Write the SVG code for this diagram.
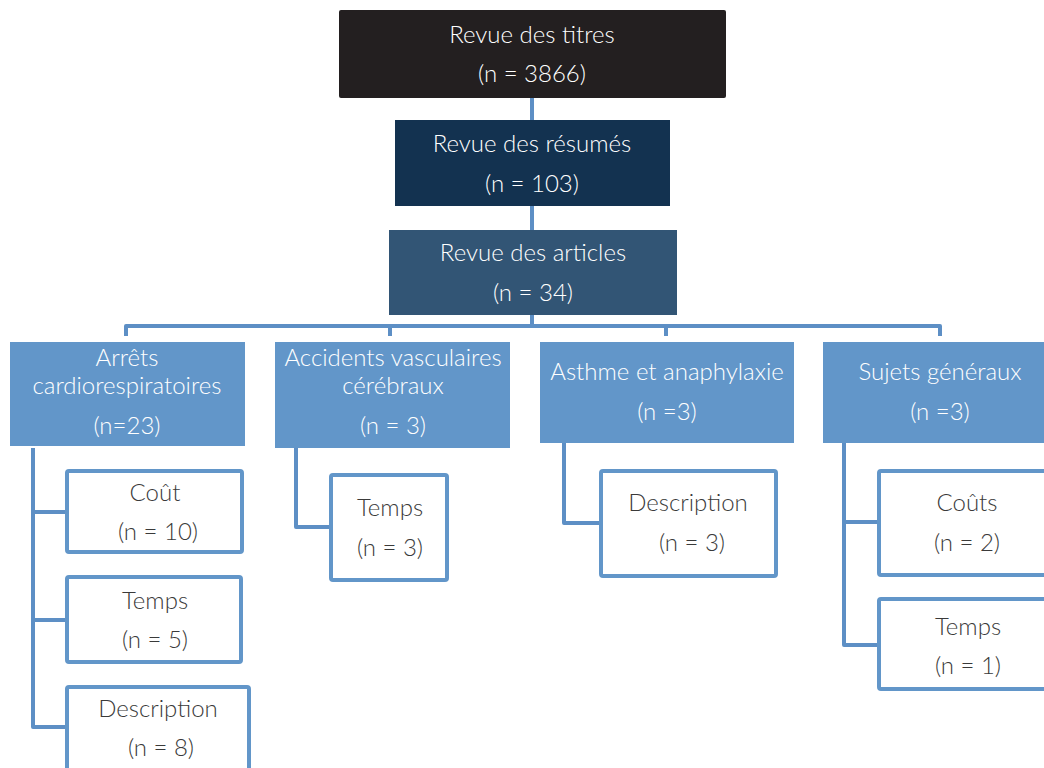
<svg xmlns="http://www.w3.org/2000/svg" width="1044" height="768" viewBox="0 0 1044 768">
<style>
text{font-family:Lato,"Open Sans","Liberation Sans",sans-serif;font-size:24px;font-weight:300;text-anchor:middle}
.w{fill:#ffffff}
.d{fill:#3a3a3a}
.lvl2{fill:#6296c9}
.leaf{fill:#ffffff;stroke:#6296c9;stroke-width:4}
.conn{fill:none;stroke:#5d8fc5;stroke-width:4;stroke-linejoin:round}
</style>
<rect width="1044" height="768" fill="#ffffff"/>
<g id="connectors">
<path class="conn" d="M532 98V120M532 206V230M532 315V326"/>
<path class="conn" d="M126 336V326H940V336M390 326V336M666 326V336"/>
<path class="conn" d="M33 448V727H67M33 512H67M33 620H67"/>
<path class="conn" d="M296 448V527H331"/>
<path class="conn" d="M564 443V523H601"/>
<path class="conn" d="M844 443V645H879M844 522H879"/>
</g>
<g id="n1"><rect x="339" y="10" width="387" height="88" rx="2" fill="#231f20"/><text class="w" x="532" y="43">Revue des titres</text><text class="w" x="532" y="82">(n = 3866)</text></g>
<g id="n2"><rect x="395" y="120" width="275" height="86" fill="#133250"/><text class="w" x="532" y="152">Revue des résumés</text><text class="w" x="532" y="192">(n = 103)</text></g>
<g id="n3"><rect x="389" y="230" width="288" height="85" fill="#325575"/><text class="w" x="533" y="261">Revue des articles</text><text class="w" x="533" y="301">(n = 34)</text></g>
<g id="nA"><rect class="lvl2" x="10" y="342" width="235" height="104"/><text class="w" x="127" y="366">Arrêts</text><text class="w" x="127" y="394">cardiorespiratoires</text><text class="w" x="127" y="434">(n=23)</text></g>
<g id="nB"><rect class="lvl2" x="275" y="342" width="235" height="106"/><text class="w" x="393" y="366">Accidents vasculaires</text><text class="w" x="393" y="394">cérébraux</text><text class="w" x="393" y="434">(n = 3)</text></g>
<g id="nC"><rect class="lvl2" x="540" y="342" width="254" height="101"/><text class="w" x="667" y="380">Asthme et anaphylaxie</text><text class="w" x="667" y="420">(n =3)</text></g>
<g id="nD"><rect class="lvl2" x="823" y="342" width="221" height="101"/><text class="w" x="940" y="380">Sujets généraux</text><text class="w" x="940" y="420">(n =3)</text></g>
<g id="a1"><rect class="leaf" x="67" y="471" width="175" height="81" rx="2"/><text class="d" x="155" y="501">Coût</text><text class="d" x="158" y="540">(n = 10)</text></g>
<g id="a2"><rect class="leaf" x="67" y="577" width="174" height="85" rx="2"/><text class="d" x="155" y="609">Temps</text><text class="d" x="155" y="648">(n = 5)</text></g>
<g id="a3"><rect class="leaf" x="67" y="687" width="182" height="90" rx="2"/><text class="d" x="158" y="717">Description</text><text class="d" x="161" y="756">(n = 8)</text></g>
<g id="b1"><rect class="leaf" x="331" y="475" width="116" height="105" rx="2"/><text class="d" x="390" y="516">Temps</text><text class="d" x="390" y="556">(n = 3)</text></g>
<g id="c1"><rect class="leaf" x="601" y="471" width="175" height="105" rx="2"/><text class="d" x="688" y="511">Description</text><text class="d" x="692" y="551">(n = 3)</text></g>
<g id="d1"><rect class="leaf" x="879" y="471" width="180" height="104" rx="2"/><text class="d" x="967" y="511">Coûts</text><text class="d" x="967" y="551">(n = 2)</text></g>
<g id="d2"><rect class="leaf" x="879" y="599" width="180" height="90" rx="2"/><text class="d" x="968" y="635">Temps</text><text class="d" x="968" y="674">(n = 1)</text></g>
</svg>
